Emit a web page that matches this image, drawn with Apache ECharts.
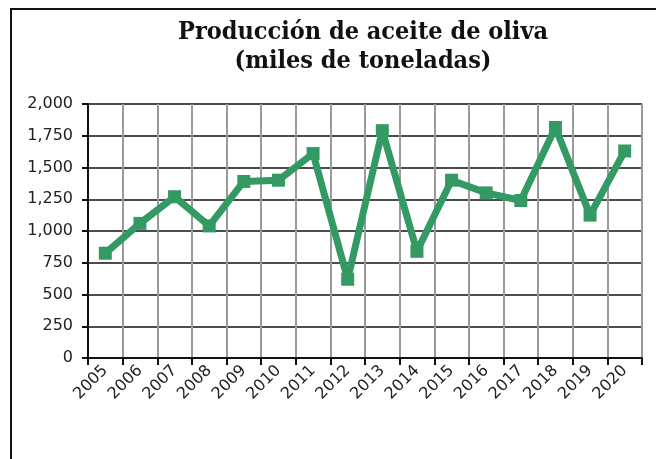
<!DOCTYPE html>
<html>
<head>
<meta charset="utf-8">
<script src="https://cdn.jsdelivr.net/npm/echarts@6/dist/echarts.min.js"></script>
<style>
  html, body { margin: 0; padding: 0; background: #fff; }
  #main { width: 656px; height: 459px; }
</style>
</head>
<body>
<div id="main"></div>
<script>
var years = ['2005','2006','2007','2008','2009','2010','2011','2012','2013','2014','2015','2016','2017','2018','2019','2020'];
var produccion = [825, 1060, 1270, 1040, 1390, 1400, 1610, 620, 1790, 840, 1400, 1300, 1240, 1815, 1125, 1630];
var yTicks = [0, 250, 500, 750, 1000, 1250, 1500, 1750, 2000];

var myChart = echarts.init(document.getElementById('main'));

var option = {
    animation: false,
    title: {
        left: 358,
        top: 13,
        textAlign: 'center',
        text: 'Producción de aceite de oliva\n(miles de toneladas)',
        textStyle: {
            fontFamily: '"DejaVu Serif Condensed", "DejaVu Serif", serif',
            fontWeight: 'bold',
            fontSize: 25,
            lineHeight: 29,
            color: '#111'
        }
    },
    graphic: [
        {type: 'rect', shape: {x: 11, y: 9, width: 700, height: 500}, style: {fill: 'none', stroke: '#111', lineWidth: 2}, silent: true}
    ],
    grid: {left: 88, top: 104, right: 14, bottom: 101, containLabel: false},
    xAxis: {
        type: 'category',
        data: years,
        boundaryGap: true,
        axisLine: {lineStyle: {color: '#111', width: 2}},
        axisTick: {show: true, length: 7, lineStyle: {color: '#111', width: 2}},
        splitLine: {show: true, interval: 0, lineStyle: {color: '#9a9a9a', width: 2}},
        axisLabel: {
            interval: 0,
            rotate: 45,
            margin: 10,
            fontFamily: 'DejaVu Sans',
            fontSize: 16,
            color: '#222'
        }
    },
    yAxis: {
        type: 'value',
        min: yTicks[0],
        max: yTicks[yTicks.length - 1],
        interval: 250,
        axisLine: {show: true, lineStyle: {color: '#111', width: 2}},
        axisTick: {show: true, length: 6, lineStyle: {color: '#111', width: 2}},
        splitLine: {lineStyle: {color: '#111', width: 1.5}},
        axisLabel: {
            margin: 15,
            fontFamily: 'DejaVu Sans',
            fontSize: 16,
            color: '#222',
            formatter: function (v) {
                return v.toLocaleString('en-US');
            }
        }
    },
    series: [
        {
            name: 'Producción',
            type: 'line',
            data: produccion,
            symbol: 'rect',
            symbolSize: 13,
            lineStyle: {color: '#349a63', width: 7},
            itemStyle: {color: '#349a63'}
        }
    ]
};

myChart.setOption(option);
</script>
</body>
</html>
